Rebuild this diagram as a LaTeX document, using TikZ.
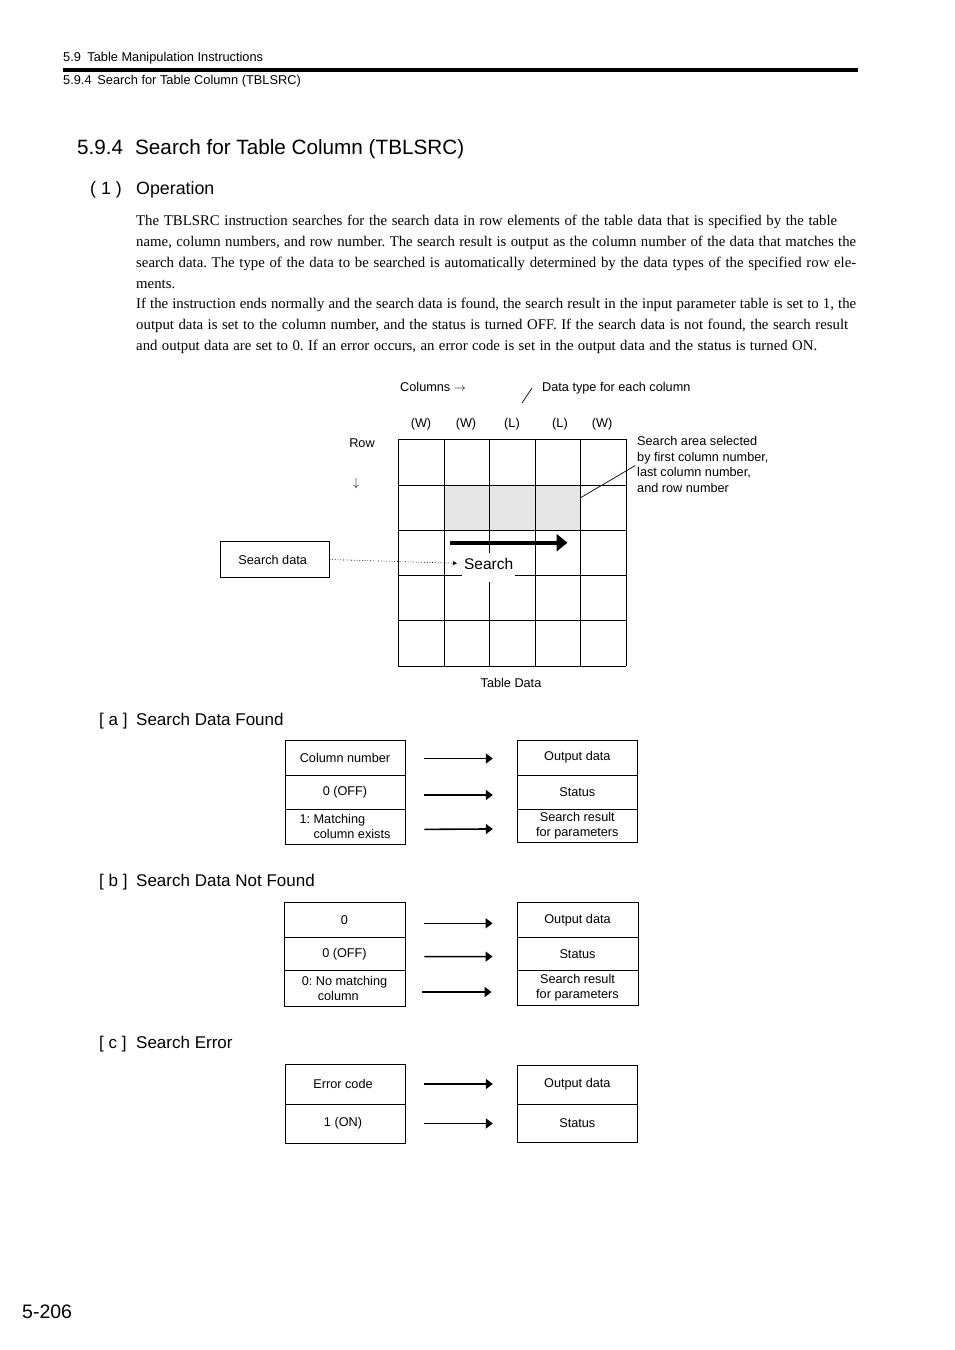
\documentclass[tikz,border=0pt]{standalone}
\usepackage{fontspec}
\setmainfont{Liberation Serif}
\setsansfont{Liberation Sans}
\usetikzlibrary{arrows.meta}
\definecolor{shadecell}{HTML}{E6E6E6}
\newcommand\dfont{\sffamily\fontsize{12.7}{15}\selectfont}
\newcommand\bodyfont{\rmfamily\fontsize{14.8}{20.8}\selectfont}
\frenchspacing
\begin{document}
\begin{tikzpicture}[x=1pt,y=-1pt,
  txt/.style={inner sep=0pt, anchor=base west},
  lbl/.style={inner sep=0pt, font=\dfont},
  cell/.style={draw, line width=0.9pt, inner sep=0pt, align=center, font=\dfont, minimum width=120pt},
  arr/.style={line width=1.6pt, -{Triangle[length=7pt,width=10pt]}, shorten <=19pt, shorten >=24pt},
  gridline/.style={line width=0.9pt}]
\fill[white] (0,0) rectangle (954,1350);
\useasboundingbox (0,0) rectangle (954,1350);

% header
\node[txt, font=\sffamily\fontsize{12.8}{14}\selectfont] (h1) at (63,61.6) {5.9\hspace{0.5em}Table Manipulation Instructions};
\fill (63,68.2) rectangle (858,72.2);
\node[txt, font=\sffamily\fontsize{12.8}{14}\selectfont] (h2) at (63,84.6) {5.9.4\hspace{0.45em}Search for Table Column (TBLSRC)};

% title
\node[txt, font=\sffamily\fontsize{20.7}{24}\selectfont] (title) at (77,154.4) {\makebox[58pt][l]{5.9.4}Search for Table Column (TBLSRC)};
\node[txt, font=\sffamily\fontsize{17.8}{20}\selectfont] (sub) at (90,194.2) {\makebox[46pt][l]{( 1 )}Operation};

% paragraph
\node[txt, font=\bodyfont] (p1) at (136,225.7) {\makebox[701pt][s]{The TBLSRC instruction searches for the search data in row elements of the table data that is specified by the table}};
\node[txt, font=\bodyfont] (p2) at (136,246.5) {\makebox[720pt][s]{name, column numbers, and row number. The search result is output as the column number of the data that matches the}};
\node[txt, font=\bodyfont] (p3) at (136,267.3) {\makebox[720pt][s]{search data. The type of the data to be searched is automatically determined by the data types of the specified row ele-}};
\node[txt, font=\bodyfont] (p4) at (136,288.1) {ments.};
\node[txt, font=\bodyfont] (p5) at (136,308.9) {\makebox[720pt][s]{If the instruction ends normally and the search data is found, the search result in the input parameter table is set to 1, the}};
\node[txt, font=\bodyfont] (p6) at (136,329.7) {\makebox[712pt][s]{output data is set to the column number, and the status is turned OFF. If the search data is not found, the search result}};
\node[txt, font=\bodyfont] (p7) at (136,350.5) {\makebox[681pt][s]{and output data are set to 0. If an error occurs, an error code is set in the output data and the status is turned ON.}};

% table diagram
\node[txt, font=\dfont] (cols) at (400,391.5) {Columns $\rightarrow$};
\node[txt, font=\dfont] (dt) at (542,391.5) {Data type for each column};
\draw[line width=0.7pt] (522,403) -- (532,388);
\foreach \x/\t [count=\i] in {421/W,466/W,512/L,560/L,602/W}
  \node[lbl] (ty\i) at (\x,424) {(\t)};
\node[lbl] (row) at (362,443) {Row};
\node[lbl] (rowarr) at (356,483) {$\downarrow$};

\fill[shadecell] (444,485) rectangle (580.5,530);
\foreach \x in {398,444,489,535,580.5,626}
  \draw[gridline] (\x,439) -- (\x,666);
\foreach \y in {439,485,530,575,620,666}
  \draw[gridline] (398,\y) -- (626,\y);

\node[lbl, anchor=west, align=left, font=\sffamily\fontsize{12.7}{15.7}\selectfont] (sa) at (637,464.5)
  {Search area selected\\by first column number,\\last column number,\\and row number};
\coordinate (cellpt) at (581,497.5);
\draw[line width=0.7pt, shorten >=2pt] (cellpt) -- (sa.west);

\fill[white] (462,553) rectangle (515,582);
\node[inner sep=0pt, font=\sffamily\fontsize{15.5}{18}\selectfont] (srch) at (488.7,563.5) {Search};
\draw[line width=4pt, -{Triangle[length=11pt,width=17pt]}] (450,542.7) -- (567.5,542.7);

\node[draw, line width=0.9pt, minimum width=109pt, minimum height=35.6pt, inner sep=0pt, font=\dfont] (sd) at (274.7,559.5) {\hspace*{-4pt}Search data};
\draw[dotted, line width=0.7pt, -{Triangle[length=4pt,width=4pt]}, shorten >=7pt] (sd.east) -- (srch.west);

\node[lbl] (td) at (511,683) {Table Data};

% [a]
\node[txt, font=\sffamily\fontsize{17}{20}\selectfont] (sa1) at (99,725) {\makebox[37pt][l]{[ a ]}Search Data Found};
\node[cell, minimum height=35pt] (a1) at (345,757.5) {Column number};
\node[cell, minimum height=34pt] (a2) at (345,792) {0 (OFF)};
\node[cell, minimum height=35pt, align=left] (a3) at (345,826.5) {1: Matching\\\hspace*{14pt}column exists};
\node[cell, minimum height=35pt] (ra1) at (577.3,757.5) {Output data};
\node[cell, minimum height=34pt] (ra2) at (577.3,792) {Status};
\node[cell, minimum height=33.5pt] (ra3) at (577.3,825.8) {Search result\\for parameters};
\draw[arr] ([yshift=-1pt]a1.east) -- ([yshift=-1pt]ra1.west);
\draw[arr] ([yshift=-3pt]a2.east) -- ([yshift=-3pt]ra2.west);
\draw[arr] ([yshift=-3pt]a3.east) -- ([yshift=-3pt]ra3.west);

% [b]
\node[txt, font=\sffamily\fontsize{17}{20}\selectfont] (sb1) at (99,886.5) {\makebox[37pt][l]{[ b ]}Search Data Not Found};
\node[cell, minimum width=121pt, minimum height=35.5pt] (b1) at (344.5,919.8) {0};
\node[cell, minimum width=121pt, minimum height=33pt] (b2) at (344.5,954) {0 (OFF)};
\node[cell, minimum width=121pt, minimum height=36pt, align=left] (b3) at (344.5,988.5) {0: No matching\\\hspace*{16pt}column};
\node[cell, minimum width=121pt, minimum height=35.5pt] (rb1) at (577.5,919.8) {Output data};
\node[cell, minimum width=121pt, minimum height=32.5pt] (rb2) at (577.5,953.8) {Status};
\node[cell, minimum width=121pt, minimum height=35pt] (rb3) at (577.5,987.5) {Search result\\for parameters};
\draw[arr] ([yshift=-3.5pt]b1.east) -- ([yshift=-3.5pt]rb1.west);
\draw[arr] ([yshift=-2.7pt]b2.east) -- ([yshift=-2.7pt]rb2.west);
\draw[arr, shorten <=17pt, shorten >=25pt] ([yshift=-3.5pt]b3.east) -- ([yshift=-3.5pt]b3.east -| rb3.west);

% [c]
\node[txt, font=\sffamily\fontsize{17}{20}\selectfont] (sc1) at (99,1048.5) {\makebox[37pt][l]{[ c ]}Search Error};
\node[cell, minimum height=40pt] (c1) at (345,1084) {\hspace*{-4pt}Error code};
\node[cell, minimum height=39pt] (c2) at (345,1123.5) {\hspace*{-4pt}1 (ON)};
\node[cell, minimum height=39pt] (rc1) at (577.3,1084.5) {Output data};
\node[cell, minimum height=38.5pt] (rc2) at (577.3,1123.3) {Status};
\draw[arr] (c1.east) -- (c1.east -| rc1.west);
\draw[arr] (c2.east) -- (c2.east -| rc2.west);

% page number
\node[txt, font=\sffamily\fontsize{19.5}{22}\selectfont] (pg) at (22,1318) {5-206};
\end{tikzpicture}
\end{document}
